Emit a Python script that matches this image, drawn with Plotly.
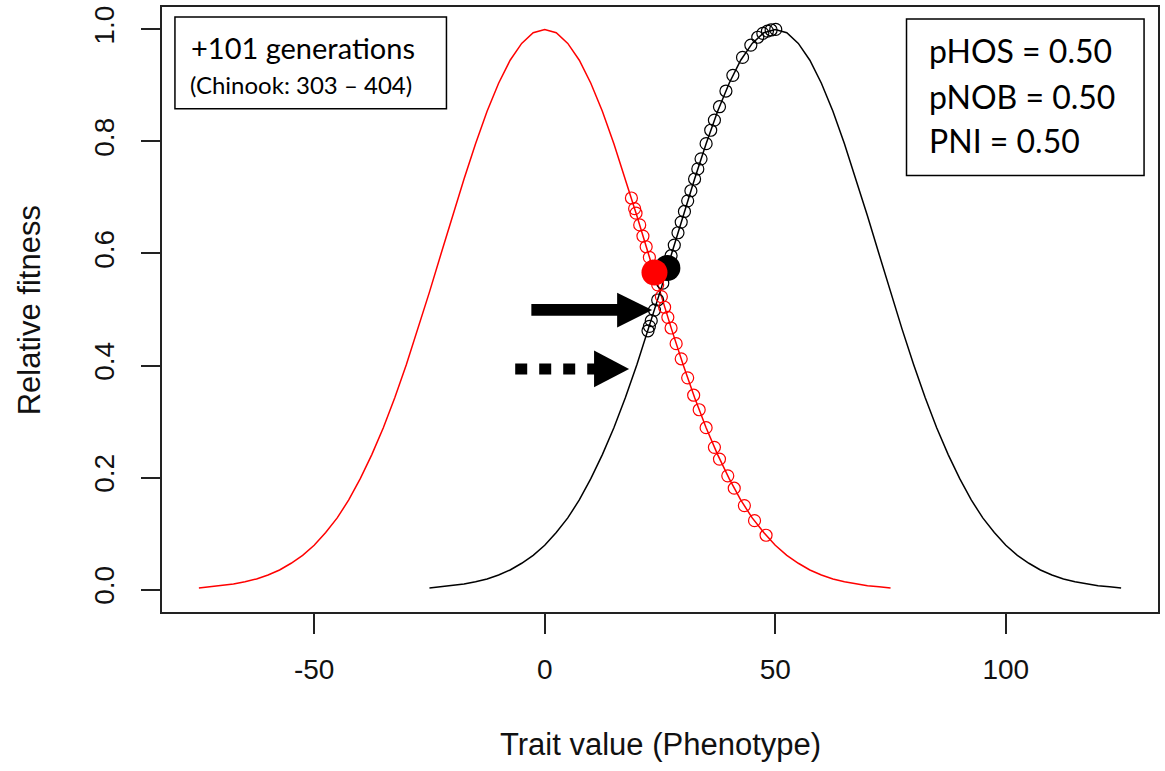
import plotly.graph_objects as go

# ---- data ----
# fitness curve shape, read at offsets 0,2.5,...,75 from each optimum
offsets = [0, 2.5, 5, 7.5, 10, 12.5, 15, 17.5, 20, 22.5, 25, 27.5, 30, 32.5, 35, 37.5,
           40, 42.5, 45, 47.5, 50, 52.5, 55, 57.5, 60, 62.5, 65, 67.5, 70, 72.5, 75]
fit_vals = [1.000, 0.994, 0.975, 0.945, 0.904, 0.854, 0.796, 0.733, 0.667, 0.599, 0.531,
            0.465, 0.402, 0.343, 0.289, 0.241, 0.198, 0.160, 0.128, 0.102, 0.079, 0.061,
            0.047, 0.035, 0.026, 0.019, 0.014, 0.010, 0.007, 0.005, 0.003]
red_opt = 0
black_opt = 50

black_pts_x = [22.4, 22.7, 23.1, 23.8, 24.5, 25.6, 26.5, 27.4, 28.1, 28.9, 29.6, 30.3, 31.0,
               31.7, 32.5, 33.2, 33.9, 35.0, 36.0, 36.8, 37.9, 39.3, 40.8, 42.9, 44.7, 46.2,
               47.3, 48.3, 49.1, 50.1]
black_pts_y = [0.462, 0.470, 0.480, 0.499, 0.517, 0.547, 0.572, 0.596, 0.615, 0.637, 0.656,
               0.675, 0.694, 0.712, 0.733, 0.751, 0.769, 0.796, 0.820, 0.838, 0.862, 0.890,
               0.918, 0.950, 0.972, 0.986, 0.993, 0.997, 0.999, 1.000]
red_pts_x = [18.8, 19.5, 19.8, 20.6, 21.3, 22.0, 22.7, 23.3, 24.5, 25.3, 26.0, 26.7, 27.4,
             28.5, 29.6, 31.0, 32.3, 33.5, 35.0, 36.8, 37.9, 39.7, 41.1, 43.3, 45.5, 48.0]
red_pts_y = [0.699, 0.680, 0.672, 0.651, 0.631, 0.612, 0.593, 0.577, 0.544, 0.523, 0.504,
             0.486, 0.467, 0.439, 0.412, 0.378, 0.347, 0.321, 0.289, 0.254, 0.233, 0.203,
             0.181, 0.150, 0.123, 0.097]
black_dot = (26.6, 0.574)
red_dot = (23.8, 0.566)

x_ticks = [-50, 0, 50, 100]
y_ticks = [0.0, 0.2, 0.4, 0.6, 0.8, 1.0]
y_tick_labels = ["0.0", "0.2", "0.4", "0.6", "0.8", "1.0"]

# build symmetric curves
def curve(opt):
    xs = [opt - d for d in reversed(offsets)] + [opt + d for d in offsets[1:]]
    ys = list(reversed(fit_vals)) + fit_vals[1:]
    return xs, ys

rx, ry = curve(red_opt)
bx, by = curve(black_opt)

fig = go.Figure()
fig.add_trace(go.Scatter(x=rx, y=ry, mode="lines", line=dict(color="#ff0000", width=1.5),
                         hoverinfo="skip"))
fig.add_trace(go.Scatter(x=bx, y=by, mode="lines", line=dict(color="#000000", width=1.5),
                         hoverinfo="skip"))
fig.add_trace(go.Scatter(x=black_pts_x, y=black_pts_y, mode="markers",
                         marker=dict(symbol="circle-open", size=12, color="#000000",
                                     line=dict(width=1.2, color="#000000"))))
fig.add_trace(go.Scatter(x=red_pts_x, y=red_pts_y, mode="markers",
                         marker=dict(symbol="circle-open", size=12, color="#ff0000",
                                     line=dict(width=1.2, color="#ff0000"))))
fig.add_trace(go.Scatter(x=[black_dot[0]], y=[black_dot[1]], mode="markers",
                         marker=dict(symbol="circle", size=26, color="#000000")))
fig.add_trace(go.Scatter(x=[red_dot[0]], y=[red_dot[1]], mode="markers",
                         marker=dict(symbol="circle", size=26, color="#ff0000")))

shapes = []
# solid arrow
shapes.append(dict(type="rect", xref="x", yref="y", x0=-2.9, x1=16.1, y0=0.489, y1=0.510,
                   fillcolor="black", line=dict(width=0)))
shapes.append(dict(type="path", xref="x", yref="y",
                   path="M 15.7,0.530 L 23.3,0.499 L 15.7,0.468 Z",
                   fillcolor="black", line=dict(width=0)))
# dotted arrow
shapes.append(dict(type="line", xref="x", yref="y", x0=-6.4, x1=11.0, y0=0.394, y1=0.394,
                   line=dict(color="black", width=11, dash="12px,12px")))
shapes.append(dict(type="path", xref="x", yref="y",
                   path="M 10.7,0.427 L 18.3,0.394 L 10.7,0.361 Z",
                   fillcolor="black", line=dict(width=0)))
# text boxes
shapes.append(dict(type="rect", xref="paper", yref="paper", x0=0.013, x1=0.2856,
                   y0=0.832, y1=0.9835, line=dict(color="black", width=1.5),
                   fillcolor="white"))
shapes.append(dict(type="rect", xref="paper", yref="paper", x0=0.7475, x1=0.986,
                   y0=0.7216, y1=0.980, line=dict(color="black", width=1.5),
                   fillcolor="white"))

W, H = 1165, 771
L, R, T, B = 162, 5, 5, 159
pw, ph = W - L - R, H - T - B

def px(xp):
    return (xp - L) / pw

def py(yp):
    return (H - B - yp) / ph

annots = [
    dict(text="+101 generations", x=px(189), y=py(46), xanchor="left", yanchor="middle",
         font=dict(family="Lato", size=29, color="black")),
    dict(text="(Chinook: 303 \u2013 404)", x=px(188), y=py(83), xanchor="left",
         yanchor="middle", font=dict(family="Lato", size=24, color="black")),
    dict(text="pHOS = 0.50", x=px(929), y=py(49), xanchor="left", yanchor="middle",
         font=dict(family="Lato", size=32, color="black")),
    dict(text="pNOB = 0.50", x=px(929), y=py(95), xanchor="left", yanchor="middle",
         font=dict(family="Lato", size=32, color="black")),
    dict(text="PNI = 0.50", x=px(929), y=py(139), xanchor="left", yanchor="middle",
         font=dict(family="Lato", size=32, color="black")),
    dict(text="Trait value (Phenotype)", x=px(661), y=py(745), xanchor="center",
         yanchor="middle", font=dict(family="Liberation Sans", size=31, color="#111")),
    dict(text="Relative fitness", x=px(30), y=py(309), xanchor="center", yanchor="middle",
         textangle=-90, font=dict(family="Liberation Sans", size=31, color="#111")),
]
for a in annots:
    a.update(xref="paper", yref="paper", showarrow=False)

fig.update_layout(
    width=W, height=H, margin=dict(l=L, r=R, t=T, b=B),
    paper_bgcolor="white", plot_bgcolor="white", showlegend=False,
    shapes=shapes, annotations=annots,
    xaxis=dict(range=[-83, 133], tickmode="array", tickvals=x_ticks,
               ticktext=[str(v) for v in x_ticks],
               showgrid=False, zeroline=False, showline=True, mirror=True,
               linecolor="#222", linewidth=1.5, ticks="outside", ticklen=20,
               tickwidth=1.5, tickcolor="#222",
               tickfont=dict(family="Liberation Sans", size=28, color="#111"),
               ticklabelstandoff=12),
    yaxis=dict(range=[-0.04, 1.04], tickmode="array", tickvals=y_ticks,
               ticktext=y_tick_labels, tickangle=-90,
               showgrid=False, zeroline=False, showline=True, mirror=True,
               linecolor="#222", linewidth=1.5, ticks="outside", ticklen=19,
               tickwidth=1.5, tickcolor="#222",
               tickfont=dict(family="Liberation Sans", size=28, color="#111"),
               ticklabelstandoff=16),
)

fig.write_html("out.html")
